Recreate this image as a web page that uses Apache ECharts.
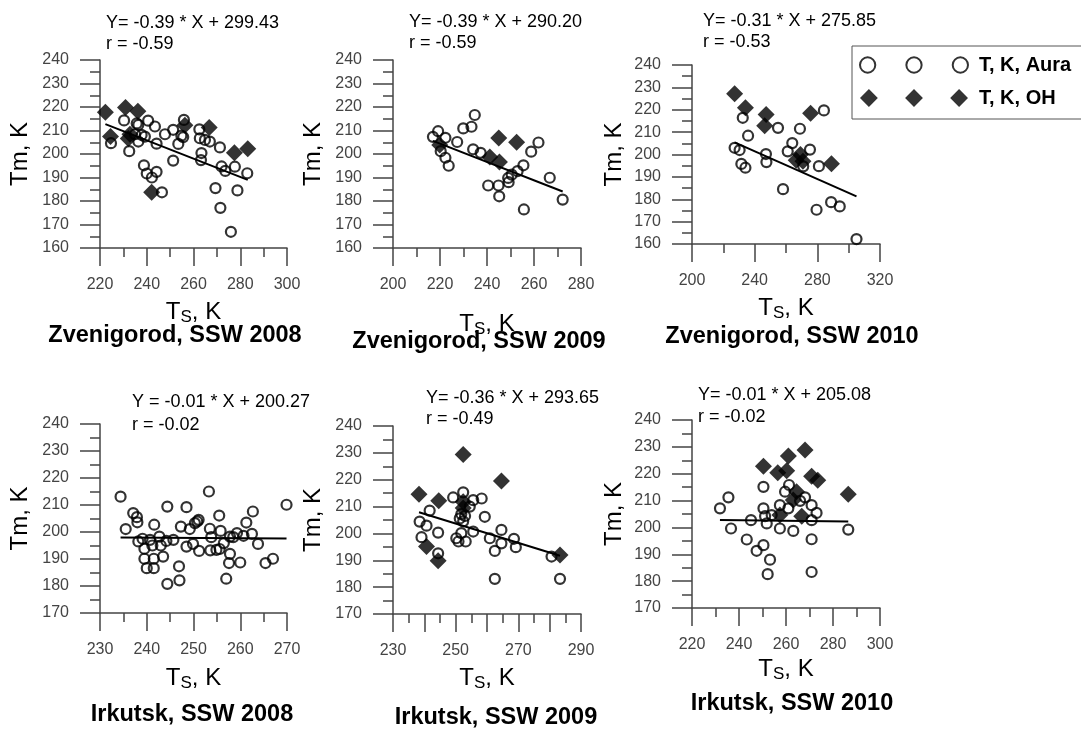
<!DOCTYPE html>
<html>
<head>
<meta charset="utf-8">
<title>Tm vs Ts</title>
<script src="https://cdn.jsdelivr.net/npm/echarts@6/dist/echarts.min.js"></script>
<style>
  html, body { margin: 0; padding: 0; background: #fff; }
  #main { width: 1081px; height: 731px; }
</style>
</head>
<body>
<div id="main"></div>
<script>
// ---- data ----
var panelTitles = ['Zvenigorod, SSW 2008', 'Zvenigorod, SSW 2009', 'Zvenigorod, SSW 2010',
                   'Irkutsk, SSW 2008', 'Irkutsk, SSW 2009', 'Irkutsk, SSW 2010'];
var eqLines = ['Y= -0.39 * X + 299.43', 'Y= -0.39 * X + 290.20', 'Y= -0.31 * X + 275.85',
               'Y = -0.01 * X + 200.27', 'Y= -0.36 * X + 293.65', 'Y= -0.01 * X + 205.08'];
var rLines = ['r = -0.59', 'r = -0.59', 'r = -0.53', 'r = -0.02', 'r = -0.49', 'r = -0.02'];
var slopes = [-0.39, -0.39, -0.31, -0.01, -0.36, -0.01];
var intercepts = [299.43, 290.20, 275.85, 200.27, 293.65, 205.08];

// axis ranges
var xMins = [220, 200, 200, 230, 230, 220];
var xMaxs = [300, 280, 320, 270, 290, 300];
var xSteps = [20, 20, 40, 10, 10, 20];
var xLabelSteps = [20, 20, 40, 10, 20, 20];
var yMins = [160, 160, 160, 170, 170, 170];
var yMax = 240;

// Aura (open circles) and OH (diamonds), [Ts, Tm]
var zv2008Aura = [[224.7,204.6],[230.3,214.3],[232.5,201.2],[235.7,213],[236.4,205.3],[235,208.4],[237.8,208.1],
  [239.2,207.4],[236.4,212.4],[238.8,195.2],[240,191.7],[242.2,190],[244.2,192.4],[240.6,214.2],[243.5,211.7],
  [244.2,204.4],[246.5,183.7],[247.8,208.4],[251.3,197.2],[251.3,210.3],[253.5,204.3],[254.8,207.8],[255.9,214.5],
  [255.6,207.2],[262.5,210.5],[262.7,206.7],[264.9,206],[267,205.3],[263.4,200.4],[263.2,197.4],[271.3,202.8],
  [272,194.7],[273.6,192.8],[277.7,194.6],[269.4,185.5],[271.5,177.1],[278.8,184.5],[283,191.8],[276,166.9]];
var zv2008OH = [[222.3,217.8],[230.9,219.8],[236.2,218.2],[224.5,207.4],[232.1,206.6],[232.8,208.4],
  [242.1,183.7],[256.3,212.2],[266.7,211.3],[277.5,200.5],[283.2,202.2]];

var zv2009Aura = [[217,207.3],[219.2,209.7],[222.3,206.9],[220.3,201.2],[222.3,198.4],[223.7,195],[227.3,205.1],
  [229.9,210.9],[233.4,211.6],[234.8,216.6],[234.1,202],[237.3,200.5],[240.5,186.6],[244.9,186.6],[245.2,182],
  [249.2,188],[250.5,191.2],[253,192.7],[255.5,195.2],[255.7,176.4],[258.8,201],[261.9,204.9],[266.7,189.9],
  [272.2,180.6],[249,189.8]];
var zv2009OH = [[219.9,203.8],[241.2,198.7],[245.3,196.6],[245,206.8],[252.6,205]];

var zv2010Aura = [[232.4,216.4],[235.8,208.4],[227.2,203],[230.4,202],[231.5,195.8],[234.1,194.1],[247.2,200.2],
  [247.5,196.6],[254.9,211.9],[258.1,184.5],[261.1,201.4],[264,205.1],[268.9,211.5],[271,194.7],[275.3,202.2],
  [281,194.8],[284.2,219.7],[279.5,175.3],[288.8,178.7],[294.3,176.8],[305,162.2]];
var zv2010OH = [[227.2,227.1],[234.1,220.9],[247.3,217.9],[246.4,212.9],[275.7,218.4],[289,195.9],
  [266.5,197.4],[269.2,200],[270.8,197]];

var ir2008Aura = [[234.4,213.1],[235.5,201.1],[237.1,207],[237.9,205.5],[238,203.6],[238.2,196.5],[239.1,197.5],
  [239.5,190.1],[239.5,193.8],[240,186.6],[240.7,197.1],[241.2,195],[241.6,202.7],[241.5,190.1],[241.5,186.6],
  [242.7,198.3],[243,195],[243.5,190.9],[244.4,209.4],[244.2,196.7],[245.7,197.1],[244.4,180.8],[246.9,187.3],
  [247,182.1],[247.3,202],[248.5,209.2],[248.5,194.6],[249.2,201.1],[249.9,195.6],[250.3,203.3],[250.8,203.9],
  [251.1,204.5],[251.2,193],[253.3,215],[253.5,201.2],[253.8,198.1],[253.6,193.2],[254.9,193.4],[255.5,206.1],
  [255.6,193.7],[255.8,200.4],[256.5,195.9],[257,182.7],[257.8,191.9],[257.6,188.5],[257.8,198.3],[258.5,198.1],
  [259.3,199.6],[260,188.7],[260.7,198.6],[261.3,203.5],[262.7,207.6],[262.5,199.3],[263.8,195.6],[265.4,188.5],
  [267,190.1],[269.9,210.1]];
var ir2008OH = [];

var ir2009Aura = [[238.5,204.4],[239.1,198.6],[240.7,202.9],[241.7,208.5],[244.4,200.3],[244.4,192.6],[249.2,213.4],
  [250.2,198.2],[250.9,197],[251.3,205.6],[251.8,207.2],[252.4,215.3],[251.8,200.1],[253.2,197],[254.5,210],
  [255.6,212.4],[255.6,200.7],[258.3,213],[259.3,206.2],[260.9,198.2],[262.5,193.5],[262.5,183.1],[264.6,201.3],
  [264.6,196.3],[268.6,198],[269.2,194.9],[280.6,191.4],[283.3,183.1],[252.4,204.5],[253,206.5]];
var ir2009OH = [[238.3,214.6],[244.6,212.2],[252.4,229.4],[264.6,219.5],[240.7,195.1],[244.4,189.8],
  [252.4,211.8],[252.4,209.5],[283.3,192]];

var ir2010Aura = [[235.5,211.2],[231.9,207.1],[236.6,199.6],[250.4,215.1],[250.4,207.1],[251.1,204.2],[245.1,202.7],
  [251.8,201.5],[243.3,195.5],[247.5,191.3],[250.4,193.4],[253.2,188],[252.2,182.6],[257.4,199.6],[257.4,208.3],
  [259.6,213.3],[261.3,215.8],[263.1,198.7],[261,207.1],[266,209.9],[268.1,211.2],[270.9,208.3],[270.9,202.7],
  [273,205.4],[270.9,195.6],[270.9,183.4],[286.5,199.2],[253.9,204.6]];
var ir2010OH = [[250.4,222.8],[261,226.6],[268.1,228.8],[256.5,220.4],[260.3,221.1],[270.9,219.1],[273.5,217.6],
  [286.5,212.4],[264.5,213.3],[263.1,210.2],[257.4,204.6],[266.7,204.2]];

var auraSets = [zv2008Aura, zv2009Aura, zv2010Aura, ir2008Aura, ir2009Aura, ir2010Aura];
var ohSets = [zv2008OH, zv2009OH, zv2010OH, ir2008OH, ir2009OH, ir2010OH];

// ---- layout ----
var FONT = 'Liberation Sans, Arial, sans-serif';
var AX = '#444';
var layout = [
  {left: 100, top: 60, width: 187, height: 188, xGap: 50, yGap: 68, title: [175, 336], eq: [106, 23, 44]},
  {left: 393, top: 60, width: 188, height: 188, xGap: 62, yGap: 68, title: [479, 342], eq: [409, 22, 43]},
  {left: 692, top: 65, width: 188, height: 179, xGap: 50, yGap: 66, title: [792, 337], eq: [703, 21, 42]},
  {left: 100, top: 424, width: 187, height: 189, xGap: 51, yGap: 68, title: [192, 715], eq: [132, 402, 425]},
  {left: 393, top: 426, width: 188, height: 188, xGap: 50, yGap: 68, title: [496, 718], eq: [426, 398, 419]},
  {left: 692, top: 420, width: 188, height: 188, xGap: 47, yGap: 66, title: [792, 704], eq: [698, 395, 417]}
];

var myChart = echarts.init(document.getElementById('main'));

var grids = [], xAxes = [], yAxes = [], series = [], graphics = [];

layout.forEach(function (L, i) {
  grids.push({left: L.left, top: L.top, width: L.width, height: L.height, outerBoundsMode: 'none'});

  var lblStep = xLabelSteps[i], x0 = xMins[i];
  xAxes.push({
    gridIndex: i, type: 'value',
    min: xMins[i], max: xMaxs[i], interval: xSteps[i],
    axisLine: {onZero: false, lineStyle: {color: AX, width: 1.5}},
    axisTick: {length: 18, lineStyle: {color: AX, width: 1.5}},
    minorTick: {show: true, splitNumber: 2, length: 9, lineStyle: {color: AX, width: 1.5}},
    splitLine: {show: false},
    axisLabel: {
      margin: 29, fontSize: 16, fontFamily: FONT, color: AX,
      formatter: function (v) { return (v - x0) % lblStep === 0 ? String(v) : ''; }
    },
    name: '{t|T}{s|S}{t|, K}',
    nameLocation: 'middle', nameGap: L.xGap,
    nameTextStyle: {
      rich: {
        t: {fontSize: 24, fontFamily: FONT, color: '#000'},
        s: {fontSize: 17, fontFamily: FONT, color: '#000', padding: [11, 0, 0, 0]}
      }
    }
  });

  yAxes.push({
    gridIndex: i, type: 'value',
    min: yMins[i], max: yMax, interval: 10,
    axisLine: {onZero: false, lineStyle: {color: AX, width: 1.5}},
    axisTick: {length: 20, lineStyle: {color: AX, width: 1.5}},
    minorTick: {show: true, splitNumber: 2, length: 10, lineStyle: {color: AX, width: 1.5}},
    splitLine: {show: false},
    axisLabel: {margin: 31, fontSize: 16, fontFamily: FONT, color: AX},
    name: 'Tm, K', nameLocation: 'middle', nameGap: L.yGap,
    nameTextStyle: {fontSize: 24, fontFamily: FONT, color: '#000'}
  });

  series.push({
    type: 'scatter', name: 'T, K, Aura', xAxisIndex: i, yAxisIndex: i,
    data: auraSets[i], symbol: 'circle', symbolSize: 10,
    itemStyle: {color: 'rgba(255,255,255,0)', borderColor: '#000', borderWidth: 2.2},
    emphasis: {disabled: true}, z: 2
  });
  series.push({
    type: 'scatter', name: 'T, K, OH', xAxisIndex: i, yAxisIndex: i,
    data: ohSets[i], symbol: 'diamond', symbolSize: 17,
    itemStyle: {color: '#000'},
    emphasis: {disabled: true}, z: 4
  });

  // regression line over the range of the panel's points
  var xs = auraSets[i].concat(ohSets[i]).map(function (p) { return p[0]; });
  var lo = Math.min.apply(null, xs), hi = Math.max.apply(null, xs);
  series.push({
    type: 'line', xAxisIndex: i, yAxisIndex: i, symbol: 'none', silent: true,
    data: [[lo, slopes[i] * lo + intercepts[i]], [hi, slopes[i] * hi + intercepts[i]]],
    lineStyle: {color: '#000', width: 2}, z: 3
  });

  graphics.push({type: 'text', x: L.eq[0], y: L.eq[1],
    style: {text: eqLines[i], font: '18px ' + FONT, fill: '#000', verticalAlign: 'middle'}});
  graphics.push({type: 'text', x: L.eq[0], y: L.eq[2],
    style: {text: rLines[i], font: '18px ' + FONT, fill: '#000', verticalAlign: 'middle'}});
  graphics.push({type: 'text', x: L.title[0], y: L.title[1],
    style: {text: panelTitles[i], font: 'bold 23.5px ' + FONT, fill: '#000', align: 'center', verticalAlign: 'middle'}});
});

var circles3 = 'path://M0,7.5a7.5,7.5 0 1,0 15,0a7.5,7.5 0 1,0 -15,0zM45.5,7.5a7.5,7.5 0 1,0 15,0a7.5,7.5 0 1,0 -15,0zM91,7.5a7.5,7.5 0 1,0 15,0a7.5,7.5 0 1,0 -15,0z';
var diamonds3 = 'path://M0,9L9,0L18,9L9,18ZM45.5,9L54.5,0L63.5,9L54.5,18ZM91,9L100,0L109,9L100,18Z';

myChart.setOption({
  animation: false,
  backgroundColor: '#fff',
  grid: grids,
  xAxis: xAxes,
  yAxis: yAxes,
  legend: {
    left: 852, top: 46, orient: 'vertical',
    padding: [9, 40, 11, 7], itemGap: 13,
    itemWidth: 108, itemHeight: 18,
    borderColor: '#555', borderWidth: 1,
    selectedMode: false,
    textStyle: {fontSize: 20, fontWeight: 'bold', fontFamily: FONT, color: '#000', padding: [0, 0, 0, 6]},
    data: [
      {name: 'T, K, Aura', icon: circles3, itemStyle: {color: '#fff', borderColor: '#000', borderWidth: 2}},
      {name: 'T, K, OH', icon: diamonds3, itemStyle: {color: '#000', borderWidth: 0}}
    ]
  },
  graphic: graphics,
  series: series
});
</script>
</body>
</html>
